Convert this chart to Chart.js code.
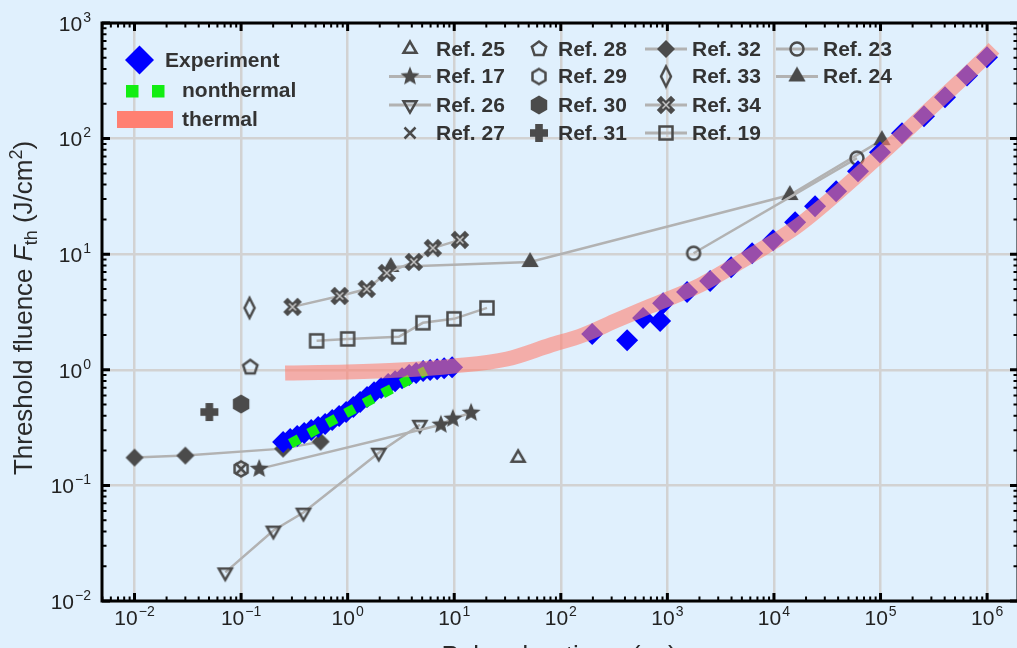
<!DOCTYPE html>
<html>
<head>
<meta charset="utf-8">
<title>Threshold fluence vs pulse duration</title>
<script src="https://cdn.jsdelivr.net/npm/chart.js@4.4.1/dist/chart.umd.min.js"></script>
<style>
  html, body { margin: 0; padding: 0; background: #e0f0fd; overflow: hidden; }
  #wrap { position: relative; width: 1020px; height: 648px; }
</style>
</head>
<body>
<div id="wrap"><canvas id="chart" width="1020" height="648"></canvas></div>
<script>
// values: [pulse duration (ns), threshold fluence (J/cm2)]
const experiment = [
  [0.248, 0.237], [0.289, 0.252], [0.336, 0.267], [0.391, 0.284], [0.455, 0.301],
  [0.529, 0.320], [0.615, 0.340], [0.716, 0.367], [0.832, 0.398], [0.968, 0.431],
  [1.13, 0.476], [1.31, 0.526], [1.52, 0.581], [1.77, 0.641], [2.06, 0.695],
  [2.40, 0.752], [2.79, 0.798], [3.24, 0.847], [3.78, 0.900], [4.39, 0.936],
  [5.11, 0.975], [5.94, 0.994], [6.91, 1.01], [8.04, 1.03], [9.55, 1.05],
  [197, 2.04], [419, 1.80], [592, 2.80], [855, 2.64], [912, 3.77], [1531, 4.70],
  [2518, 5.85], [3963, 7.73], [6237, 10.2], [9810, 13.2], [15800, 18.9],
  [24300, 26.0], [38300, 35.1], [61500, 52.2], [98900, 76.2], [159000, 111],
  [256000, 156], [403000, 228], [648000, 352], [998000, 505]
];
const nonthermal = [[0.29, 0.23], [1.3, 0.49], [5.4, 0.98]];
const thermal = [
  [0.259, 0.936], [0.99, 0.955], [3.11, 0.994], [9.98, 1.08], [31.3, 1.24],
  [79.4, 1.63], [162, 2.00], [337, 2.69], [688, 3.55], [2030, 5.40], [4130, 7.87],
  [9810, 12.7], [17600, 18.2], [98900, 71.8], [256000, 162],
  [998000, 525], [1160000, 604]
];
const ref25 = [[39.8, 0.173]];
const ref17 = [[0.148, 0.139], [7.5, 0.335], [9.7, 0.377], [14.4, 0.425]];
const ref26 = [[0.0711, 0.0177], [0.201, 0.0407], [0.385, 0.0582], [1.96, 0.192], [4.76, 0.335]];
const ref27 = [[0.1, 0.139]];
const ref28 = [[0.122, 1.05]];
const ref29 = [[0.1, 0.139]];
const ref30 = [[0.1, 0.506]];
const ref31 = [[0.0504, 0.431]];
const ref32 = [[0.01, 0.174], [0.03, 0.181], [0.248, 0.208], [0.557, 0.239]];
const ref33 = [[0.12, 3.43]];
const ref34 = [[0.304, 3.5], [0.841, 4.35], [1.51, 5.0], [2.33, 6.88], [4.18, 8.57], [6.3, 11.3], [11.3, 13.3]];
const ref19 = [[0.511, 1.78], [1.0, 1.85], [3.02, 1.93], [5.08, 2.55], [9.94, 2.76], [20.3, 3.43]];
const ref23 = [[1762, 10.2], [60100, 67.7]];
const ref24 = [[2.54, 7.75], [51.5, 8.56], [14100, 32.5], [103000, 96.9]];

const xDecades = [-2, -1, 0, 1, 2, 3, 4, 5, 6];
const yDecades = [-2, -1, 0, 1, 2, 3];

const DARK = '#4b4b4b';
const LINE = '#b2b2b2';
const BG = '#e0f0fd';
const FONT = '"Liberation Sans", Arial, sans-serif';

// marker images
function marker(size, draw) {
  const c = document.createElement('canvas');
  c.width = size; c.height = size;
  const g = c.getContext('2d');
  g.translate(size / 2, size / 2);
  g.fillStyle = DARK;
  g.strokeStyle = DARK;
  g.lineJoin = 'miter';
  draw(g);
  return c;
}
function poly(g, n, r, rot) {
  g.beginPath();
  for (let i = 0; i < n; i++) {
    const a = rot + i * 2 * Math.PI / n;
    g.lineTo(r * Math.cos(a), r * Math.sin(a));
  }
  g.closePath();
}
const UP = -Math.PI / 2;
const mk = {
  triOpen: marker(22, g => { poly(g, 3, 7.5, UP); g.lineWidth = 2.5; g.stroke(); }),
  triDown: marker(22, g => { poly(g, 3, 7.5, -UP); g.lineWidth = 2.5; g.stroke(); }),
  triFill: marker(24, g => { poly(g, 3, 10, UP); g.fill(); }),
  star: marker(24, g => {
    g.beginPath();
    for (let i = 0; i < 10; i++) {
      const r = i % 2 ? 4.4 : 10;
      const a = UP + i * Math.PI / 5;
      g.lineTo(r * Math.cos(a), r * Math.sin(a));
    }
    g.closePath(); g.fill();
  }),
  cross: marker(20, g => {
    g.lineWidth = 2.5; g.beginPath();
    g.moveTo(-5.5, -5.5); g.lineTo(5.5, 5.5); g.moveTo(5.5, -5.5); g.lineTo(-5.5, 5.5); g.stroke();
  }),
  pent: marker(22, g => { poly(g, 5, 7.5, UP); g.lineWidth = 2.5; g.stroke(); }),
  hexOpen: marker(22, g => { poly(g, 6, 7.5, UP); g.lineWidth = 2.5; g.stroke(); }),
  hexFill: marker(24, g => { poly(g, 6, 9.5, UP); g.fill(); }),
  plus: marker(24, g => { g.fillRect(-9, -3.8, 18, 7.6); g.fillRect(-3.8, -9, 7.6, 18); }),
  diamond: marker(24, g => { poly(g, 4, 9, UP); g.fill(); }),
  thinDiamond: marker(26, g => {
    g.beginPath(); g.moveTo(0, -10); g.lineTo(5, 0); g.lineTo(0, 10); g.lineTo(-5, 0); g.closePath();
    g.lineWidth = 2.5; g.stroke();
  }),
  xBold: marker(24, g => {
    g.lineCap = 'square';
    g.lineWidth = 6; g.beginPath();
    g.moveTo(-5, -5); g.lineTo(5, 5); g.moveTo(5, -5); g.lineTo(-5, 5); g.stroke();
    g.strokeStyle = '#c4c4c4'; g.lineWidth = 1.5; g.lineCap = 'butt'; g.beginPath();
    g.moveTo(-3.5, -3.5); g.lineTo(3.5, 3.5); g.moveTo(3.5, -3.5); g.lineTo(-3.5, 3.5); g.stroke();
  }),
  square: marker(22, g => { g.lineWidth = 2.5; g.strokeRect(-6.5, -6.5, 13, 13); }),
  circle: marker(22, g => { g.lineWidth = 2.5; g.beginPath(); g.arc(0, 0, 6.5, 0, 2 * Math.PI); g.stroke(); })
};

const pts = arr => arr.map(([x, y]) => ({ x, y }));
function refSet(label, data, style, line) {
  return {
    label, data: pts(data), pointStyle: style, pointRadius: 6,
    showLine: line, borderColor: LINE, borderWidth: 2.5,
    backgroundColor: DARK, order: 10
  };
}

const datasets = [
  {
    label: 'thermal', data: pts(thermal), showLine: true, pointRadius: 0,
    borderColor: 'rgba(255, 128, 114, 0.6)', borderWidth: 15,
    cubicInterpolationMode: 'monotone', borderCapStyle: 'butt', order: 0
  },
  {
    label: 'nonthermal', data: pts(nonthermal), showLine: true, pointRadius: 0,
    borderColor: '#12ee12', borderWidth: 10, borderDash: [10, 11],
    borderCapStyle: 'butt', order: 1
  },
  {
    label: 'Experiment', data: pts(experiment), showLine: false,
    pointStyle: 'rectRot', pointRadius: 11, backgroundColor: '#0000ff',
    borderWidth: 0, order: 2
  },
  refSet('Ref. 25', ref25, mk.triOpen, false),
  refSet('Ref. 17', ref17, mk.star, true),
  refSet('Ref. 26', ref26, mk.triDown, true),
  refSet('Ref. 27', ref27, mk.cross, false),
  refSet('Ref. 28', ref28, mk.pent, false),
  refSet('Ref. 29', ref29, mk.hexOpen, false),
  refSet('Ref. 30', ref30, mk.hexFill, false),
  refSet('Ref. 31', ref31, mk.plus, false),
  refSet('Ref. 32', ref32, mk.diamond, true),
  refSet('Ref. 33', ref33, mk.thinDiamond, false),
  refSet('Ref. 34', ref34, mk.xBold, true),
  refSet('Ref. 19', ref19, mk.square, true),
  refSet('Ref. 23', ref23, mk.circle, true),
  refSet('Ref. 24', ref24, mk.triFill, true)
];

// legend layout: column-major grid of references
const legendCols = [
  ['Ref. 25', 'Ref. 17', 'Ref. 26', 'Ref. 27'],
  ['Ref. 28', 'Ref. 29', 'Ref. 30', 'Ref. 31'],
  ['Ref. 32', 'Ref. 33', 'Ref. 34', 'Ref. 19'],
  ['Ref. 23', 'Ref. 24']
];
const colSymX = [410, 539, 666, 797];
const colTextX = [436, 558, 692, 823];
const rowY = [49, 76.5, 105, 133];

const isDecade = v => Math.abs(Math.log10(v) - Math.round(Math.log10(v))) < 1e-6;

function drawPow(ctx, x, y, exp, align) {
  const big = '21px ' + FONT, small = '14px ' + FONT;
  const sup = exp < 0 ? '\u2212' + (-exp) : String(exp);
  ctx.font = big; const wb = ctx.measureText('10').width;
  ctx.font = small; const ws = ctx.measureText(sup).width;
  const total = wb + ws + 1;
  let x0 = align === 'right' ? x - total : x - total / 2;
  ctx.textAlign = 'left';
  ctx.textBaseline = 'middle';
  ctx.font = big; ctx.fillText('10', x0, y);
  ctx.font = small; ctx.fillText(sup, x0 + wb + 1, y - 7);
}

const framePlugin = {
  id: 'frame',
  beforeDraw(chart) {
    const { ctx, width, height } = chart;
    ctx.save();
    ctx.fillStyle = BG;
    ctx.fillRect(0, 0, width, height);
    ctx.restore();
  },
  afterDraw(chart) {
    const { ctx, chartArea: a, scales: { x, y } } = chart;
    ctx.save();
    // inward ticks
    ctx.strokeStyle = '#000';
    const ticks = (scale, horiz) => {
      for (let d = -3; d <= 7; d++) {
        for (let k = 1; k <= 9; k++) {
          const v = k * Math.pow(10, d);
          if (v < scale.min || v > scale.max) continue;
          const p = scale.getPixelForValue(v);
          const len = k === 1 ? 8 : 4.5;
          ctx.lineWidth = k === 1 ? 3 : 2;
          ctx.beginPath();
          if (horiz) {
            ctx.moveTo(p, a.bottom); ctx.lineTo(p, a.bottom - len);
            ctx.moveTo(p, a.top); ctx.lineTo(p, a.top + len);
          } else {
            ctx.moveTo(a.left, p); ctx.lineTo(a.left + len, p);
            ctx.moveTo(a.right, p); ctx.lineTo(a.right - len, p);
          }
          ctx.stroke();
        }
      }
    };
    ticks(x, true);
    ticks(y, false);
    ctx.lineWidth = 3;
    ctx.strokeRect(a.left, a.top, a.right - a.left, a.bottom - a.top);

    // tick labels
    ctx.fillStyle = '#222';
    xDecades.forEach(d => drawPow(ctx, x.getPixelForValue(Math.pow(10, d)), a.bottom + 18, d, 'center'));
    yDecades.forEach(d => drawPow(ctx, a.left - 11, y.getPixelForValue(Math.pow(10, d)) + 2, d, 'right'));

    // axis titles
    const segs = (parts, cx, base) => {
      let w = 0;
      parts.forEach(p => { ctx.font = p.f; w += ctx.measureText(p.t).width; });
      let cur = cx - w / 2;
      ctx.textAlign = 'left';
      ctx.textBaseline = 'alphabetic';
      parts.forEach(p => {
        ctx.font = p.f;
        ctx.fillText(p.t, cur, base + (p.dy || 0));
        cur += ctx.measureText(p.t).width;
      });
    };
    const R = '26px ' + FONT, I = 'italic 26px ' + FONT, S = '18px ' + FONT;
    ctx.fillStyle = '#2a2a2a';
    segs([{ t: 'Pulse duration ', f: R }, { t: '\u03c4', f: I }, { t: ' (ns)', f: R }], 559, 664);
    ctx.save();
    ctx.translate(32, 308);
    ctx.rotate(-Math.PI / 2);
    segs([
      { t: 'Threshold fluence ', f: R }, { t: 'F', f: I }, { t: 'th', f: S, dy: 5 },
      { t: ' (J/cm', f: R }, { t: '2', f: S, dy: -10 }, { t: ')', f: R }
    ], 0, 0);
    ctx.restore();

    // legend: model curves
    const LF = 'bold 21px ' + FONT;
    ctx.font = LF;
    ctx.textBaseline = 'middle';
    ctx.textAlign = 'left';
    ctx.fillStyle = '#0000ff';
    ctx.beginPath();
    ctx.moveTo(125, 60); ctx.lineTo(139.5, 45.5); ctx.lineTo(154, 60); ctx.lineTo(139.5, 74.5);
    ctx.closePath(); ctx.fill();
    ctx.fillStyle = '#12ee12';
    ctx.fillRect(126, 85, 12.5, 12.5);
    ctx.fillRect(152, 85, 12.5, 12.5);
    ctx.fillStyle = '#ff8072';
    ctx.fillRect(117, 111, 56, 17);
    ctx.fillStyle = '#333';
    ctx.fillText('Experiment', 165, 61);
    ctx.fillText('nonthermal', 182, 91);
    ctx.fillText('thermal', 182, 120);

    // legend: references
    legendCols.forEach((col, ci) => {
      col.forEach((label, ri) => {
        const ds = chart.data.datasets.find(s => s.label === label);
        const sy = rowY[ri], sx = colSymX[ci];
        if (ds.showLine) {
          ctx.strokeStyle = LINE; ctx.lineWidth = 3;
          ctx.beginPath(); ctx.moveTo(sx - 21, sy); ctx.lineTo(sx + 21, sy); ctx.stroke();
        }
        const img = ds.pointStyle;
        ctx.drawImage(img, sx - img.width / 2, sy - img.height / 2);
        ctx.fillStyle = '#333';
        ctx.font = LF;
        ctx.fillText(label, colTextX[ci], sy + 1);
      });
    });
    ctx.restore();
  }
};

new Chart(document.getElementById('chart'), {
  type: 'scatter',
  data: { datasets },
  options: {
    responsive: false,
    animation: false,
    events: [],
    layout: { autoPadding: false, padding: { left: 102, top: 23, right: 2, bottom: 47 } },
    plugins: { legend: { display: false }, tooltip: { enabled: false } },
    scales: {
      x: {
        type: 'logarithmic',
        min: Math.pow(10, -2.305),
        max: Math.pow(10, 6.29),
        ticks: { display: false, autoSkip: false },
        border: { display: false },
        grid: {
          drawTicks: false, lineWidth: 2.5,
          color: c => (c.tick && isDecade(c.tick.value) ? '#d2d2d2' : 'rgba(0,0,0,0)')
        }
      },
      y: {
        type: 'logarithmic',
        min: 0.01,
        max: 1000,
        ticks: { display: false, autoSkip: false },
        border: { display: false },
        grid: {
          drawTicks: false, lineWidth: 2.5,
          color: c => (c.tick && isDecade(c.tick.value) ? '#d2d2d2' : 'rgba(0,0,0,0)')
        }
      }
    }
  },
  plugins: [framePlugin]
});
</script>
</body>
</html>
